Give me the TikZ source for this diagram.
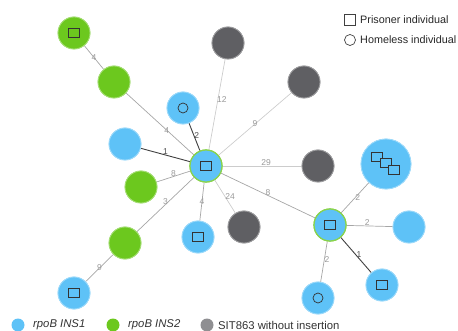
\documentclass[tikz,border=0pt]{standalone}
\usepackage{fontspec}
\setmainfont{Liberation Sans}
\begin{document}
\begin{tikzpicture}[x=1pt,y=-1pt,
  nd/.style={circle,minimum size=32pt,inner sep=0pt,draw=#1!60!white,line width=0.8pt,fill=#1},
  bl/.style={nd=nblue},
  gr/.style={nd=ngreen},
  gy/.style={nd=ngray},
  hubn/.style={circle,minimum size=32pt,inner sep=0pt,fill=nblue,draw=ngreen!80!white,line width=1.2pt},
  sq/.style={draw=black!80,line width=0.7pt,minimum width=11pt,minimum height=9pt,inner sep=0pt},
  ci/.style={circle,draw=black!80,line width=0.7pt,minimum size=10pt,inner sep=0pt},
  ed/.style={draw=black!35,line width=0.7pt},
  el/.style={draw=black!20,line width=0.7pt},
  ek/.style={draw=black!75,line width=0.9pt},
  lb/.style={font=\fontsize{8.5}{9}\selectfont,text=black!40,inner sep=1pt},
  lg/.style={font=\fontsize{10.8}{12}\selectfont,anchor=west,inner sep=0pt,text=black!85},
  lgb/.style={font=\fontsize{11.3}{12}\selectfont,anchor=west,inner sep=0pt,text=black!80},
  dot/.style={circle,fill=#1,minimum size=13pt,inner sep=0pt},
]
\definecolor{nblue}{HTML}{5EC2F7}
\definecolor{ngreen}{HTML}{6CC81E}
\definecolor{ngray}{HTML}{5F5F63}
\useasboundingbox (0,0) rectangle (458,331);
% nodes
\node[gr] (g1) at (74,33) {};
\node[gr] (g2) at (114,82) {};
\node[bl] (bc) at (183,108) {};
\node[gy] (y1) at (228,43) {};
\node[gy] (y2) at (304,82) {};
\node[bl] (bl) at (125,144) {};
\node[hubn] (h1) at (206,166) {};
\node[gy] (y3) at (318,166) {};
\node[bl,minimum size=50pt] (bb) at (386,164) {};
\node[gr] (g3) at (141,187) {};
\node[gy] (y4) at (244,227) {};
\node[bl] (bd) at (198,237) {};
\node[gr] (g4) at (125,243) {};
\node[bl] (bz) at (74,293) {};
\node[hubn] (h2) at (330,225) {};
\node[bl] (br) at (409,227) {};
\node[bl] (bs) at (382,285) {};
\node[bl] (bo) at (318,298) {};
% edges
\path[ed] (g1) -- node[lb,pos=0.5] {4} (g2);
\path[ed] (g2) -- node[lb,pos=0.6] {4} (h1);
\path[ek] (bc) -- node[lb,text=black!70,pos=0.45,right=-1pt] {2} (h1);
\path[ek] (bl) -- node[lb,text=black!70,above=-1pt,pos=0.5] {1} (h1);
\path[el] (y1) -- node[lb,pos=0.45,right=-2pt] {12} (h1);
\path[el] (y2) -- node[lb,pos=0.5] {9} (h1);
\path[el] (y3) -- node[lb,pos=0.45,above=-1pt] {29} (h1);
\path[ed] (g3) -- node[lb,pos=0.5,above=-1pt] {8} (h1);
\path[ed] (g4) -- node[lb,pos=0.5,above=-1pt] {3} (h1);
\path[ed] (bd) -- node[lb,pos=0.5] {4} (h1);
\path[el] (y4) -- node[lb,pos=0.5,right=-1pt] {24} (h1);
\path[ed] (h1) -- node[lb,pos=0.5,above=-1pt] {8} (h2);
\path[ed] (g4) -- node[lb,pos=0.5] {9} (bz);
\path[ed] (h2) -- node[lb,pos=0.5,right=-1pt] {2} (bb);
\path[ed] (h2) -- node[lb,pos=0.45,above=-1pt] {2} (br);
\path[ek] (h2) -- node[lb,text=black!70,pos=0.5,right=-1pt] {1} (bs);
\path[ed] (h2) -- node[lb,pos=0.45,right=-1pt] {2} (bo);
% redraw nodes over edges
\foreach \n/\s in {g1/gr,g2/gr,bc/bl,y1/gy,y2/gy,bl/bl,y3/gy,g3/gr,y4/gy,bd/bl,g4/gr,bz/bl,br/bl,bs/bl,bo/bl}{
  \node[\s] at (\n) {};
}
\node[bl,minimum size=50pt] at (bb) {};
\node[hubn] at (h1) {};
\node[hubn] at (h2) {};
% marks
\node[sq] at (g1) {};
\node[ci] at (bc) {};
\node[sq] at (h1) {};
\node[sq] at (bd) {};
\node[sq] at (bz) {};
\node[sq] at (h2) {};
\node[sq] at (bs) {};
\node[ci] at (bo) {};
\node[sq,fill=nblue] at ([shift={(-9,-7)}]bb) {};
\node[sq,fill=nblue] at ([shift={(0,-1)}]bb) {};
\node[sq,fill=nblue] at ([shift={(8,6)}]bb) {};
% legend top right
\node[sq,draw=black!75,minimum width=11pt,minimum height=11pt] (ls) at (350,20) {};
\node[lg] (lst) at (360,20) {Prisoner individual};
\node[ci,draw=black!75,minimum size=11pt] (lc) at (350,40) {};
\node[lg] (lct) at (360,40) {Homeless individual};
% legend bottom
\node[dot=nblue] (l1) at (18,325) {};
\node[lgb,font=\fontsize{11.3}{12}\selectfont\itshape] at (33,325) {rpoB INS1};
\node[dot=ngreen] (l2) at (113,325) {};
\node[lgb,font=\fontsize{11.3}{12}\selectfont\itshape] at (128,325) {rpoB INS2};
\node[dot=ngray!70!white] (l3) at (207,325) {};
\node[lgb] at (218,325) {SIT863 without insertion};
\end{tikzpicture}
\end{document}
